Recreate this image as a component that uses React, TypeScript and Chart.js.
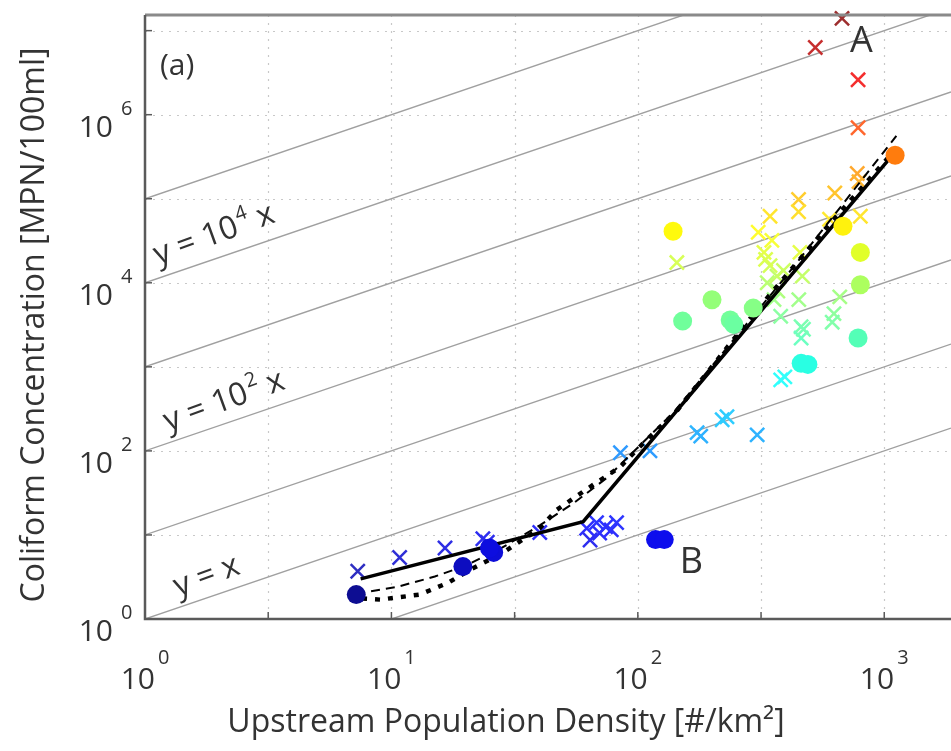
import React, { useEffect, useRef } from "react";
import { Chart, registerables } from "chart.js";

Chart.register(...registerables);

// ---- axis ranges ----
const X_MIN = 1;
const X_MAX = 1866;
const Y_MIN = 1;
const Y_MAX = 1.535e7;

// ---- tick values / labels ----
const xTickValues = [1, 3.1623, 10, 31.623, 100, 316.23, 1000];
const xLabelValues = [1, 10, 100, 1000];
const xLabelExps = ["0", "1", "2", "3"];
const yTickValues = [1, 10, 100, 1e3, 1e4, 1e5, 1e6, 1e7];
const yLabelValues = [1, 100, 1e4, 1e6];
const yLabelExps = ["0", "2", "4", "6"];

const xTitle = "Upstream Population Density [#/km²]";
const yTitle = "Coliform Concentration [MPN/100ml]";

// ---- reference lines y = 10^k x ----
const diagExponents = [-1, 0, 1, 2, 3, 4, 5];

// ---- scatter: crosses ----
const crossX = [
  7.3, 10.8, 16.5, 23.5, 24.5, 40,
  62, 64, 68, 70, 74, 78, 82,
  85, 112, 174, 180, 220, 230, 305,
  395, 380, 460, 460,
  144,
  308, 325, 344, 335, 367, 357, 380, 350, 370, 390, 330,
  455, 465, 450, 470,
  625, 615, 660,
  344, 449, 449, 630, 600, 777, 790, 800,
  783, 783, 525, 674,
];
const crossY = [
  3.7, 5.4, 7.0, 9.0, 8.2, 10.7,
  12, 8.7, 14, 10.5, 12.5, 11.5, 14,
  95, 100, 165, 150, 235, 255, 155,
  760, 700, 3.0e3, 2.2e3,
  1.74e4,
  4.0e4, 2.3e4, 1.6e4, 1.0e4, 1.2e4, 6.3e3, 4.0e3, 3.2e4, 8.0e3, 1.4e4, 1.9e4,
  2.3e4, 1.2e4, 6.3e3, 2.8e3,
  4.3e3, 3.4e3, 6.8e3,
  6.2e4, 9.8e4, 7.0e4, 1.17e5, 5.7e4, 2.0e5, 1.6e5, 6.2e4,
  7.0e5, 2.6e6, 6.3e6, 1.4e7,
];

// ---- scatter: filled circles ----
const circleX = [
  7.2, 19.5, 26, 25,
  118, 128,
  139, 200, 152, 237, 245, 294,
  680, 800, 800, 783,
  460, 490,
  1107,
];
const circleY = [
  1.95, 4.2, 6.2, 7.0,
  8.8, 8.8,
  4.1e4, 6.3e3, 3.5e3, 3.6e3, 3.2e3, 5.0e3,
  4.7e4, 2.3e4, 9.5e3, 2.2e3,
  1.1e3, 1.07e3,
  3.3e5,
];

// ---- fitted curves ----
const solidX = [7.5, 60, 1030];
const solidY = [3.0, 14.4, 2.8e5];
const dashedX = [7.2, 10.5, 15, 20, 28, 40, 55, 75, 100, 140, 400, 1120];
const dashedY = [2.0, 2.4, 3.2, 4.3, 7.0, 13, 24, 48, 110, 290, 1.2e4, 5.6e5];
const dottedX = [7.6, 9, 13, 17, 21, 28, 40, 47, 62, 85, 109, 144, 300, 600, 1050];
const dottedY = [1.75, 1.7, 1.95, 2.7, 3.9, 6.0, 12, 20, 35, 65, 137, 300, 4500, 5.0e4, 3.2e5];

// ---- in-plot text ----
const annotationTexts = ["(a)", "A", "B"];
const annotationX = [1.15, 726, 148];
const annotationY = [3.0e6, 5.6e6, 3.56];
const annotationSizes = [30, 36, 36];

const lineLabelBase = ["y = 10", "y = 10", "y = x"];
const lineLabelExp = ["4", "2", ""];
const lineLabelTail = [" x", " x", ""];
const lineLabelX = [1.13, 1.24, 1.36];
const lineLabelY = [1.63e4, 170, 1.84];

const FONT = '"Open Sans", "DejaVu Sans", sans-serif';
const TEXT_COLOR = "#333333";

function clamp01(v: number) {
  return Math.max(0, Math.min(1, v));
}
function jet(t: number, lighten: number) {
  t = clamp01(t);
  const r = clamp01(Math.min(4 * t - 1.5, -4 * t + 4.5));
  const g = clamp01(Math.min(4 * t - 0.5, -4 * t + 3.5));
  const b = clamp01(Math.min(4 * t + 0.5, -4 * t + 2.5));
  const mix = (c: number) => Math.round(255 * (c + (1 - c) * lighten));
  return `rgb(${mix(r)},${mix(g)},${mix(b)})`;
}
function colorFor(y: number, lighten: number) {
  return jet((Math.log10(y) - 0.2) / 7.0, lighten);
}

const decorPlugin = {
  id: "decor",
  beforeDatasetsDraw(chart: any) {
    const ctx = chart.ctx;
    const { left, right, top, bottom } = chart.chartArea;
    const xs = chart.scales.x;
    const ys = chart.scales.y;
    ctx.save();
    ctx.strokeStyle = "#c8c8c8";
    ctx.lineWidth = 1.2;
    ctx.setLineDash([2, 6]);
    xTickValues.forEach((v) => {
      const px = Math.round(xs.getPixelForValue(v)) + 0.5;
      if (px <= left + 2) return;
      ctx.beginPath();
      ctx.moveTo(px, top);
      ctx.lineTo(px, bottom);
      ctx.stroke();
    });
    yTickValues.forEach((v) => {
      const py = Math.round(ys.getPixelForValue(v)) + 0.5;
      if (py >= bottom - 2 || py <= top + 2) return;
      ctx.beginPath();
      ctx.moveTo(left, py);
      ctx.lineTo(right, py);
      ctx.stroke();
    });
    ctx.setLineDash([]);
    ctx.restore();
  },
  afterDatasetsDraw(chart: any) {
    const ctx = chart.ctx;
    const { left, right, top, bottom } = chart.chartArea;
    const xs = chart.scales.x;
    const ys = chart.scales.y;
    ctx.save();
    ctx.strokeStyle = "#8a8a8a";
    ctx.lineWidth = 3;
    ctx.beginPath();
    ctx.moveTo(left, top);
    ctx.lineTo(right, top);
    ctx.stroke();
    ctx.strokeStyle = "#5a5a5a";
    ctx.lineWidth = 2.5;
    ctx.beginPath();
    ctx.moveTo(left, top);
    ctx.lineTo(left, bottom);
    ctx.lineTo(right, bottom);
    ctx.stroke();
    ctx.lineWidth = 1.5;
    xTickValues.forEach((v) => {
      const px = xs.getPixelForValue(v);
      ctx.beginPath();
      ctx.moveTo(px, bottom);
      ctx.lineTo(px, bottom - 7);
      ctx.stroke();
    });
    yTickValues.forEach((v) => {
      const py = ys.getPixelForValue(v);
      ctx.beginPath();
      ctx.moveTo(left, py);
      ctx.lineTo(left + 7, py);
      ctx.stroke();
    });
    ctx.restore();
  },
  afterDraw(chart: any) {
    const ctx = chart.ctx;
    const { left, top, bottom } = chart.chartArea;
    const xs = chart.scales.x;
    const ys = chart.scales.y;
    ctx.save();
    ctx.fillStyle = TEXT_COLOR;
    ctx.textBaseline = "alphabetic";

    xLabelValues.forEach((v, i) => {
      const px = xs.getPixelForValue(v);
      ctx.font = `30px ${FONT}`;
      const wBase = ctx.measureText("10").width;
      ctx.font = `20px ${FONT}`;
      const wExp = ctx.measureText(xLabelExps[i]).width;
      const total = wBase + 3 + wExp;
      const x0 = px - total / 2;
      ctx.textAlign = "left";
      ctx.font = `30px ${FONT}`;
      ctx.fillText("10", x0, bottom + 70);
      ctx.font = `20px ${FONT}`;
      ctx.fillText(xLabelExps[i], x0 + wBase + 3, bottom + 45);
    });

    yLabelValues.forEach((v, i) => {
      const py = ys.getPixelForValue(v);
      ctx.textAlign = "right";
      ctx.font = `30px ${FONT}`;
      ctx.fillText("10", left - 32, py + 22);
      ctx.textAlign = "left";
      ctx.font = `20px ${FONT}`;
      ctx.fillText(yLabelExps[i], left - 24, py);
    });

    ctx.font = `32px ${FONT}`;
    ctx.textAlign = "center";
    ctx.fillText(xTitle, left + 361, bottom + 113);
    ctx.save();
    ctx.translate(44, (top + bottom) / 2 + 8);
    ctx.rotate(-Math.PI / 2);
    ctx.fillText(yTitle, 0, 0);
    ctx.restore();

    ctx.textAlign = "left";
    annotationTexts.forEach((t, i) => {
      ctx.font = `${annotationSizes[i]}px ${FONT}`;
      ctx.fillText(t, xs.getPixelForValue(annotationX[i]), ys.getPixelForValue(annotationY[i]));
    });

    lineLabelBase.forEach((base, i) => {
      ctx.save();
      ctx.translate(xs.getPixelForValue(lineLabelX[i]), ys.getPixelForValue(lineLabelY[i]));
      ctx.rotate((-20 * Math.PI) / 180);
      ctx.font = `32px ${FONT}`;
      ctx.fillText(base, 0, 0);
      let w = ctx.measureText(base).width;
      if (lineLabelExp[i]) {
        ctx.font = `20px ${FONT}`;
        ctx.fillText(lineLabelExp[i], w + 2, -14);
        w += ctx.measureText(lineLabelExp[i]).width + 2;
      }
      if (lineLabelTail[i]) {
        ctx.font = `32px ${FONT}`;
        ctx.fillText(lineLabelTail[i], w, 0);
      }
      ctx.restore();
    });
    ctx.restore();
  },
};

export default function App() {
  const ref = useRef<HTMLCanvasElement>(null);
  useEffect(() => {
    document.body.style.margin = "0";
    const canvas = ref.current;
    if (!canvas) return;

    const diagDatasets = diagExponents.map((k) => ({
      type: "scatter" as const,
      data: [
        { x: X_MIN, y: Math.pow(10, k) * X_MIN },
        { x: X_MAX, y: Math.pow(10, k) * X_MAX },
      ],
      showLine: true,
      borderColor: "#a0a0a0",
      borderWidth: 1.4,
      pointRadius: 0,
      clip: 0,
      order: 5,
    }));

    const crossData = crossX.map((x, i) => ({ x, y: crossY[i] }));
    const circleData = circleX.map((x, i) => ({ x, y: circleY[i] }));
    const mk = (xa: number[], ya: number[]) => xa.map((x, i) => ({ x, y: ya[i] }));

    const chart = new Chart(canvas, {
      type: "scatter",
      data: {
        datasets: [
          ...diagDatasets,
          {
            data: crossData,
            pointStyle: "crossRot",
            pointRadius: 10,
            pointBorderWidth: 2.5,
            pointBorderColor: (c: any) => colorFor(c.raw ? c.raw.y : 1, 0.18),
            pointBackgroundColor: (c: any) => colorFor(c.raw ? c.raw.y : 1, 0.18),
            clip: false,
            order: 3,
          } as any,
          {
            data: mk(dottedX, dottedY),
            showLine: true,
            borderColor: "#000000",
            borderWidth: 4.5,
            borderDash: [5, 8],
            pointRadius: 0,
            order: 2,
          },
          {
            data: mk(dashedX, dashedY),
            showLine: true,
            borderColor: "#000000",
            borderWidth: 2,
            borderDash: [9, 6],
            pointRadius: 0,
            order: 2,
          },
          {
            data: mk(solidX, solidY),
            showLine: true,
            borderColor: "#000000",
            borderWidth: 3.5,
            pointRadius: 0,
            order: 1,
          },
          {
            data: circleData,
            pointStyle: "circle",
            pointRadius: 9.5,
            pointBorderWidth: 0,
            pointBackgroundColor: (c: any) => colorFor(c.raw ? c.raw.y : 1, 0.05),
            pointBorderColor: (c: any) => colorFor(c.raw ? c.raw.y : 1, 0.05),
            clip: false,
            order: 0,
          } as any,
        ],
      },
      options: {
        responsive: false,
        animation: false,
        events: [],
        layout: { autoPadding: false, padding: { top: 15, right: 0, left: 0, bottom: 0 } },
        plugins: {
          legend: { display: false },
          tooltip: { enabled: false },
        },
        scales: {
          x: {
            type: "logarithmic",
            min: X_MIN,
            max: X_MAX,
            ticks: { display: false },
            grid: { display: false },
            border: { display: false },
            afterFit: (s: any) => {
              s.height = 132;
            },
          },
          y: {
            type: "logarithmic",
            min: Y_MIN,
            max: Y_MAX,
            ticks: { display: false },
            grid: { display: false },
            border: { display: false },
            afterFit: (s: any) => {
              s.width = 145;
            },
          },
        },
      } as any,
      plugins: [decorPlugin],
    });
    return () => chart.destroy();
  }, []);

  return <canvas ref={ref} width={951} height={751} style={{ display: "block" }} />;
}
